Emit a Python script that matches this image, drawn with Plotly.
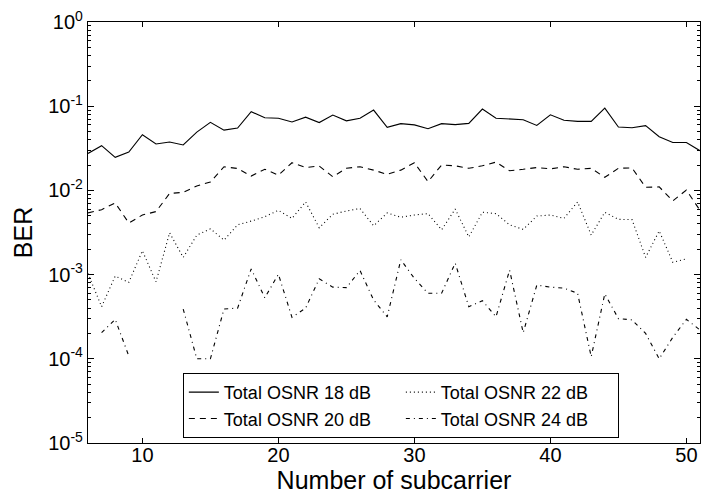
import plotly.graph_objects as go

subcarrier = list(range(6, 52))

osnr18 = [0.0275, 0.034, 0.0247, 0.0285, 0.0458, 0.0356, 0.0375, 0.0346, 0.0493, 0.0643,
          0.052, 0.055, 0.086, 0.073, 0.072, 0.065, 0.074, 0.064, 0.0785, 0.067,
          0.072, 0.090, 0.056, 0.062, 0.060, 0.054, 0.062, 0.0605, 0.0625, 0.0925,
          0.072, 0.071, 0.069, 0.059, 0.079, 0.068, 0.066, 0.066, 0.095, 0.0565,
          0.0555, 0.0588, 0.0434, 0.037, 0.037, 0.0296]

osnr20 = [0.0054, 0.0059, 0.0071, 0.0041, 0.0051, 0.0056, 0.0092, 0.0095, 0.0113, 0.0126,
          0.0191, 0.0182, 0.0148, 0.0178, 0.0152, 0.0213, 0.0187, 0.0195, 0.0145, 0.0183,
          0.0191, 0.0174, 0.0155, 0.0174, 0.0213, 0.0127, 0.020, 0.0196, 0.0183, 0.0196,
          0.0217, 0.0171, 0.0178, 0.0187, 0.018, 0.0191, 0.0178, 0.0183, 0.0143, 0.0183,
          0.0185, 0.0109, 0.011, 0.0075, 0.0101, 0.0058]

osnr22 = [0.00103, 0.000415, 0.00096, 0.00081, 0.00192, 0.00082, 0.00314, 0.0016, 0.00294, 0.0035,
          0.00257, 0.0039, 0.00432, 0.00487, 0.0058, 0.00465, 0.0073, 0.0036, 0.0052, 0.0057,
          0.0061, 0.0038, 0.0054, 0.0048, 0.0051, 0.0053, 0.0034, 0.006, 0.0028, 0.0055,
          0.0053, 0.0039, 0.00344, 0.00496, 0.0051, 0.00465, 0.0073, 0.00295, 0.0055, 0.00453,
          0.0045, 0.0016, 0.0033, 0.0014, 0.00154, None]

osnr24 = [None, 0.000204, 0.000294, 0.000108, None, None, None, 0.00039, 0.0001, 0.0001,
          0.00039, 0.0004, 0.00117, 0.00053, 0.00101, 0.00031, 0.0004, 0.00089, 0.00071, 0.0007,
          0.00112, 0.0005, 0.000315, 0.0015, 0.0009, 0.0006, 0.0006, 0.00137, 0.000415, 0.00049,
          0.000315, 0.00113, 0.000204, 0.00075, 0.00071, 0.00069, 0.0006, 0.000106, 0.00059, 0.0003,
          0.00029, 0.0002, 0.0001, 0.00018, 0.000294, 0.00022]

series_names = ["Total OSNR 18 dB", "Total OSNR 20 dB", "Total OSNR 22 dB", "Total OSNR 24 dB"]
series_values = [osnr18, osnr20, osnr22, osnr24]
dash_styles = ["solid", "6px,5px", "1px,3px", "4px,4px,1px,4px"]
legend_ranks = [1, 3, 2, 4]

y_tick_vals = [1e-5, 1e-4, 1e-3, 1e-2, 1e-1, 1]
y_tick_text = ["10<sup>-5</sup>", "10<sup>-4</sup>", "10<sup>-3</sup>", "10<sup>-2</sup>",
               "10<sup>-1</sup>", "10<sup>0</sup>"]
x_tick_vals = [10, 20, 30, 40, 50]

minor_vals = [m * 10.0 ** e for e in range(-5, 0) for m in range(2, 10)]

fig = go.Figure()
for name, vals, dash, rank in zip(series_names, series_values, dash_styles, legend_ranks):
    fig.add_trace(go.Scatter(
        x=subcarrier, y=vals, mode="lines", name=name,
        line=dict(color="black", width=1.1, dash=dash),
        connectgaps=False, legendrank=rank,
    ))

font_family = "Liberation Sans, Arial, sans-serif"

fig.update_layout(
    width=701, height=497,
    margin=dict(l=88, r=1, t=22, b=54),
    paper_bgcolor="white", plot_bgcolor="white",
    font=dict(family=font_family, color="black"),
    showlegend=True,
    legend=dict(
        orientation="h",
        x=0.155, xanchor="left",
        y=0.012, yanchor="bottom",
        bgcolor="white", bordercolor="black", borderwidth=1,
        font=dict(size=18, family=font_family, color="black"),
        entrywidth=172, entrywidthmode="pixels",
        itemwidth=30,
        tracegroupgap=0,
    ),
    xaxis=dict(
        range=[6, 51],
        tickvals=x_tick_vals,
        ticks="inside", ticklen=5, tickwidth=1, tickcolor="black",
        showline=True, linecolor="black", linewidth=1.3, mirror="ticks",
        showgrid=False, zeroline=False,
        tickfont=dict(size=20, family=font_family, color="black"),
        ticklabelstandoff=-6,
        title=dict(text="Number of subcarrier", font=dict(size=25, family=font_family, color="black"), standoff=2),
    ),
    yaxis=dict(
        type="log",
        range=[-5, 0],
        tickvals=y_tick_vals, ticktext=y_tick_text,
        ticks="inside", ticklen=6, tickwidth=1, tickcolor="black",
        showline=True, linecolor="black", linewidth=1.3, mirror="ticks",
        showgrid=False, zeroline=False,
        tickfont=dict(size=20, family=font_family, color="black"),
        title=dict(text="BER", font=dict(size=25, family=font_family, color="black"), standoff=8),
        minor=dict(tickvals=minor_vals, ticks="inside", ticklen=3, tickwidth=1, tickcolor="black", showgrid=False),
    ),
)

fig.write_html("out.html")
